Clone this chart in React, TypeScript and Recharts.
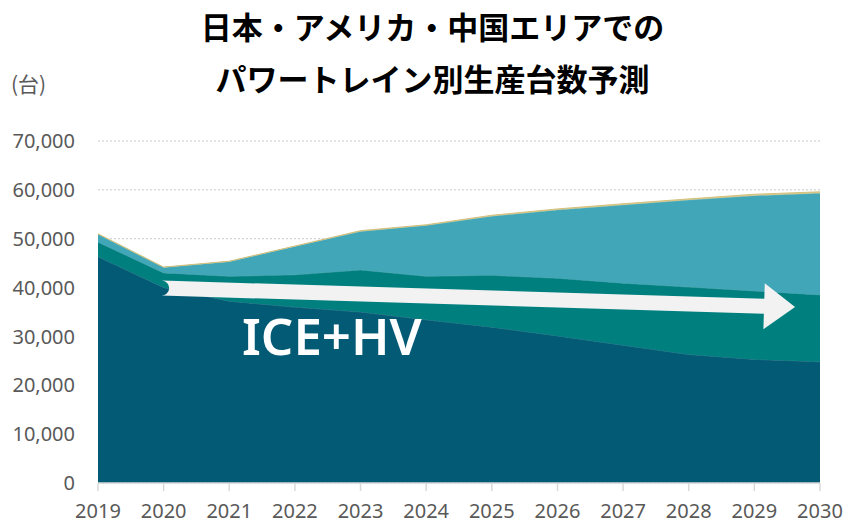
import React from "react"
import { AreaChart, Area, XAxis, YAxis, CartesianGrid, ReferenceLine } from "recharts"

const years = [2019, 2020, 2021, 2022, 2023, 2024, 2025, 2026, 2027, 2028, 2029, 2030]
const iceHv = [46300, 40000, 37200, 36000, 35000, 33400, 31900, 30100, 28200, 26300, 25300, 24800]
const phv = [3000, 3000, 5100, 6600, 8600, 8900, 10600, 11800, 12700, 13800, 14000, 13700]
const bev = [1600, 1100, 3000, 5800, 7900, 10400, 12100, 14000, 16000, 17800, 19500, 20800]
const fcv = [100, 100, 100, 100, 150, 150, 200, 200, 250, 250, 300, 300]
const yTicks = [0, 10000, 20000, 30000, 40000, 50000, 60000, 70000]

const arrowFrom = { x: 2019.97, y: 39900 }
const arrowTo = { x: 2029.62, y: 36000 }

const data = years.map((year, i) => ({
  year,
  iceHv: iceHv[i],
  phv: phv[i],
  bev: bev[i],
  fcv: fcv[i],
}))

const tickStyle = { fill: "#595959", fontSize: 20, fontFamily: "'Noto Sans', sans-serif" }

// thick arrow drawn between the two segment end points
function Arrow(props: any) {
  const { x1, y1, x2, y2 } = props
  const dx = x2 - x1
  const dy = y2 - y1
  const len = Math.sqrt(dx * dx + dy * dy)
  const ux = dx / len
  const uy = dy / len
  const nx = -uy
  const ny = ux
  const headLen = 31
  const headHalf = 23
  const shaftHalf = 7.5
  const bx = x2 - ux * headLen
  const by = y2 - uy * headLen
  const d = [
    `M${x1 + nx * shaftHalf},${y1 + ny * shaftHalf}`,
    `L${bx + nx * shaftHalf},${by + ny * shaftHalf}`,
    `L${bx + nx * headHalf},${by + ny * headHalf}`,
    `L${x2},${y2}`,
    `L${bx - nx * headHalf},${by - ny * headHalf}`,
    `L${bx - nx * shaftHalf},${by - ny * shaftHalf}`,
    `L${x1 - nx * shaftHalf},${y1 - ny * shaftHalf}`,
    `A${shaftHalf},${shaftHalf} 0 0 1 ${x1 + nx * shaftHalf},${y1 + ny * shaftHalf}`,
    "Z",
  ].join(" ")
  return <path d={d} fill="#f2f2f2" />
}

export default function App() {
  return (
    <div style={{ position: "absolute", left: 0, top: 0, width: 845, height: 525, background: "#fff" }}>
      <div
        style={{
          position: "absolute",
          left: 10,
          top: 6,
          width: 845,
          textAlign: "center",
          fontFamily: "'Noto Sans CJK JP', sans-serif",
          fontWeight: 700,
          fontSize: 31,
          lineHeight: "40px",
          color: "#000",
        }}
      >
        日本・アメリカ・中国エリアでの
      </div>
      <div
        style={{
          position: "absolute",
          left: 10,
          top: 58,
          width: 845,
          textAlign: "center",
          fontFamily: "'Noto Sans CJK JP', sans-serif",
          fontWeight: 700,
          fontSize: 31,
          lineHeight: "40px",
          color: "#000",
        }}
      >
        パワートレイン別生産台数予測
      </div>
      <div
        style={{
          position: "absolute",
          left: 11,
          top: 68,
          fontFamily: "'Noto Sans CJK JP', sans-serif",
          fontSize: 21,
          lineHeight: "30px",
          color: "#595959",
        }}
      >
        (台)
      </div>
      <AreaChart width={845} height={525} data={data} margin={{ top: 141, right: 25, bottom: 0, left: 0 }}>
        <CartesianGrid vertical={false} strokeDasharray="2 2" stroke="#c8c8c8" />
        <XAxis
          dataKey="year"
          type="number"
          domain={[2019, 2030]}
          ticks={years}
          tickFormatter={(v) => String(v)}
          tick={tickStyle}
          stroke="#d9d9d9"
          strokeWidth={1.5}
          tickSize={8}
          tickMargin={13}
          height={42}
          interval={0}
        />
        <YAxis
          domain={[0, 70000]}
          ticks={yTicks}
          tickFormatter={(v) => v.toLocaleString("en-US")}
          tick={tickStyle}
          axisLine={false}
          tickLine={false}
          tickSize={0}
          tickMargin={23}
          width={98}
          interval={0}
        />
        <Area type="linear" dataKey="iceHv" name="ICE+HV" stackId="a" fill="#035a74" fillOpacity={1} stroke="#2a7088" strokeWidth={1} isAnimationActive={false} />
        <Area type="linear" dataKey="phv" name="PHV" stackId="a" fill="#007f7f" fillOpacity={1} stroke="#2f9494" strokeWidth={1} isAnimationActive={false} />
        <Area type="linear" dataKey="bev" name="BEV" stackId="a" fill="#41a6b7" fillOpacity={1} stroke="#5ab3c1" strokeWidth={1} isAnimationActive={false} />
        <Area type="linear" dataKey="fcv" name="FCV" stackId="a" fill="#d8c98c" fillOpacity={1} stroke="#d4c07c" strokeWidth={1} isAnimationActive={false} />
        <ReferenceLine segment={[arrowFrom, arrowTo]} shape={Arrow} ifOverflow="visible" />
      </AreaChart>
      <div
        style={{
          position: "absolute",
          left: 242,
          top: 303,
          fontFamily: "'Noto Sans', sans-serif",
          fontSize: 51,
          lineHeight: "64px",
          color: "#fff",
          fontWeight: 600,
        }}
      >
        ICE+HV
      </div>
    </div>
  )
}
